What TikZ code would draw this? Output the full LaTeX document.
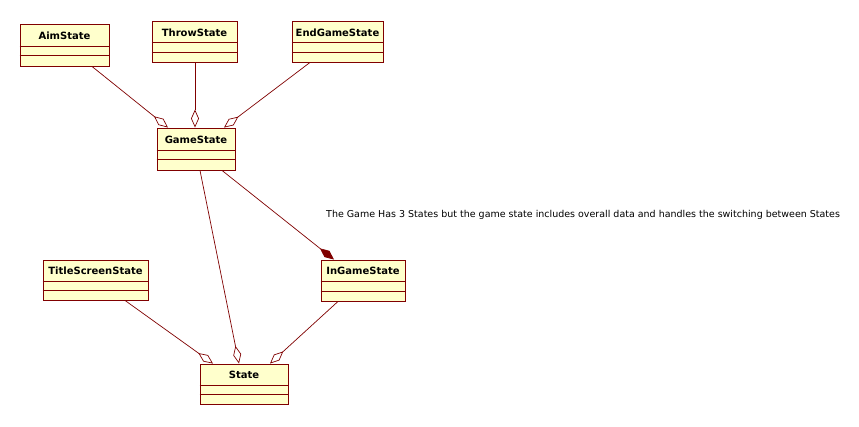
\documentclass[tikz,border=0pt]{standalone}
\usepackage{fontspec}
\setmainfont{DejaVu Sans}
\usetikzlibrary{arrows.meta,calc}
\definecolor{umlred}{RGB}{128,0,0}
\definecolor{umlfill}{RGB}{255,255,204}
\begin{document}
\begin{tikzpicture}[x=1pt,y=-1pt,
  classrect/.style={draw=umlred,fill=umlfill,line width=0.9pt,inner sep=0pt,rectangle},
  classlabel/.style={font=\fontsize{10}{12}\selectfont\bfseries,text=black,inner sep=0pt},
  divider/.style={draw=umlred,line width=0.8pt},
  assoc/.style={draw=umlred,line width=0.7pt},
  agg/.style={assoc,-{Diamond[open,length=18pt,width=8pt,line width=0.7pt]}},
  comp/.style={assoc,-{Diamond[length=18pt,width=8pt]}},
  notetext/.style={font=\fontsize{9.5}{11}\selectfont,text=black,inner sep=0pt}]
\useasboundingbox[fill=white] (0,0) rectangle (859,426);
\newcommand\classbox[6]{%
  \node[classrect,minimum width=#4pt,minimum height=#5pt] (#1) at (#2,#3) {};
  \draw[divider] ($(#1.north west)!0.53!(#1.south west)$) -- ($(#1.north east)!0.53!(#1.south east)$);
  \draw[divider] ($(#1.north west)!0.75!(#1.south west)$) -- ($(#1.north east)!0.75!(#1.south east)$);
  \node[classlabel] (#1l) at ($(#1.north)!0.28!(#1.south)$) {#6};
}
\classbox{aim}{64.5}{45}{89}{42}{AimState}
\classbox{throw}{194.5}{41.5}{85}{41}{ThrowState}
\classbox{endg}{337.5}{41.5}{91}{41}{EndGameState}
\classbox{game}{196}{149}{78}{42}{GameState}
\classbox{title}{95.5}{280}{105}{40}{TitleScreenState}
\classbox{ingame}{363}{280.5}{84}{41}{InGameState}
\classbox{state}{244}{384}{88}{40}{State}
% connectors
\draw[agg] ([xshift=27.5pt]aim.south) -- ([xshift=-28pt]game.north);
\draw[agg] ([xshift=0.5pt]throw.south) -- ([xshift=-1pt]game.north);
\draw[agg] ([xshift=-27.5pt]endg.south) -- ([xshift=28pt]game.north);
\draw[comp] ([xshift=26pt]game.south) -- ([xshift=-29pt]ingame.north);
\draw[agg] ([xshift=4pt]game.south) -- ([xshift=-5pt]state.north);
\draw[agg] ([xshift=29.5pt]title.south) -- ([xshift=-31pt]state.north);
\draw[agg] ([xshift=-25pt]ingame.south) -- ([xshift=26pt]state.north);
\node[notetext,anchor=base west] (note) at (326,217) {The Game Has 3 States but the game state includes overall data and handles the switching between States};
\end{tikzpicture}
\end{document}
